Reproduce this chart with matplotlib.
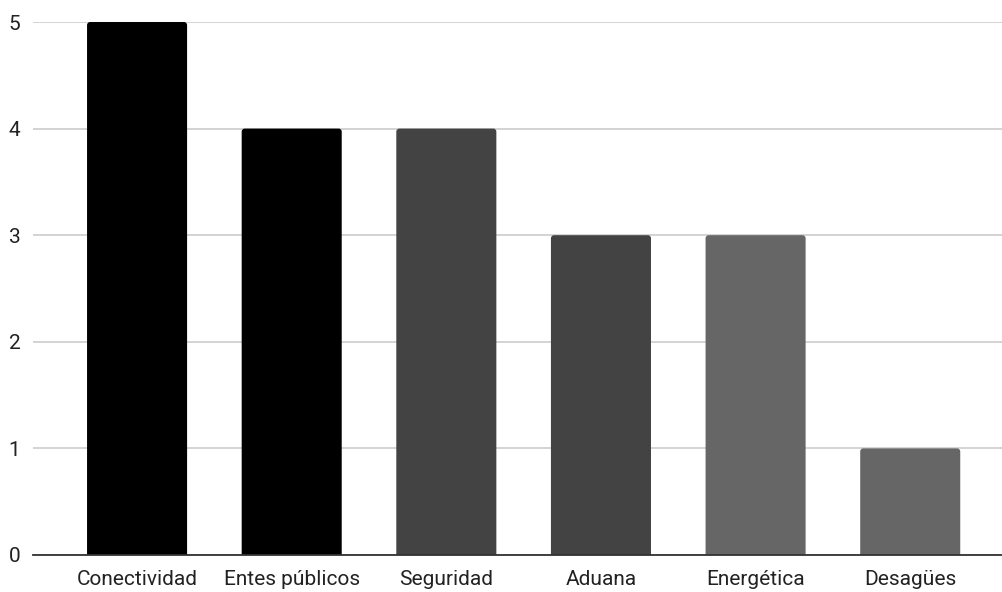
import matplotlib
matplotlib.use("Agg")
import matplotlib.pyplot as plt
from matplotlib.patches import FancyBboxPatch

categories = ["Conectividad", "Entes públicos", "Seguridad", "Aduana", "Energética", "Desagües"]
values = [5, 4, 4, 3, 3, 1]
bar_colors = ["#000000", "#000000", "#434343", "#434343", "#666666", "#666666"]
yticks = [0, 1, 2, 3, 4, 5]

plt.rcParams['font.family'] = ['Roboto', 'DejaVu Sans']

fig = plt.figure(figsize=(10.03, 5.92), dpi=100)
ax = fig.add_axes([33/1003, 1 - 555/592, (1003-33)/1003, (555-22)/592])

x = list(range(len(categories)))
bars = ax.bar(x, values, width=0.647, color=bar_colors, zorder=3)

ax.set_xlim(-0.673, 5.60)
ax.set_ylim(0, 5)

# rounded-top versions of the bars (bottom extended below the axis and clipped)
ext = 0.1
for b in bars:
    bx, by = b.get_x(), b.get_y()
    bw, bh = b.get_width(), b.get_height()
    fb = FancyBboxPatch((bx, by - ext), bw, bh + ext,
                        boxstyle="round,pad=0,rounding_size=0.02",
                        mutation_aspect=1.45,
                        facecolor=b.get_facecolor(), edgecolor="none",
                        zorder=3, clip_on=True)
    ax.add_patch(fb)
    b.set_visible(False)

ax.set_yticks(yticks)
ax.set_yticklabels([str(t) for t in yticks])
ax.set_xticks(x)
ax.set_xticklabels(categories)

ax.yaxis.grid(True, color="#cccccc", linewidth=1.2, zorder=0)
ax.set_axisbelow(True)
for s in ["top", "right", "left"]:
    ax.spines[s].set_visible(False)
ax.spines["bottom"].set_color("#333333")
ax.spines["bottom"].set_linewidth(1.3)
ax.spines["bottom"].set_zorder(4)
ax.tick_params(axis="both", length=0, labelsize=15, colors="#222222")
ax.tick_params(axis="y", pad=9)
ax.tick_params(axis="x", pad=11)

fig.savefig("out.png", dpi=100, facecolor="white")
